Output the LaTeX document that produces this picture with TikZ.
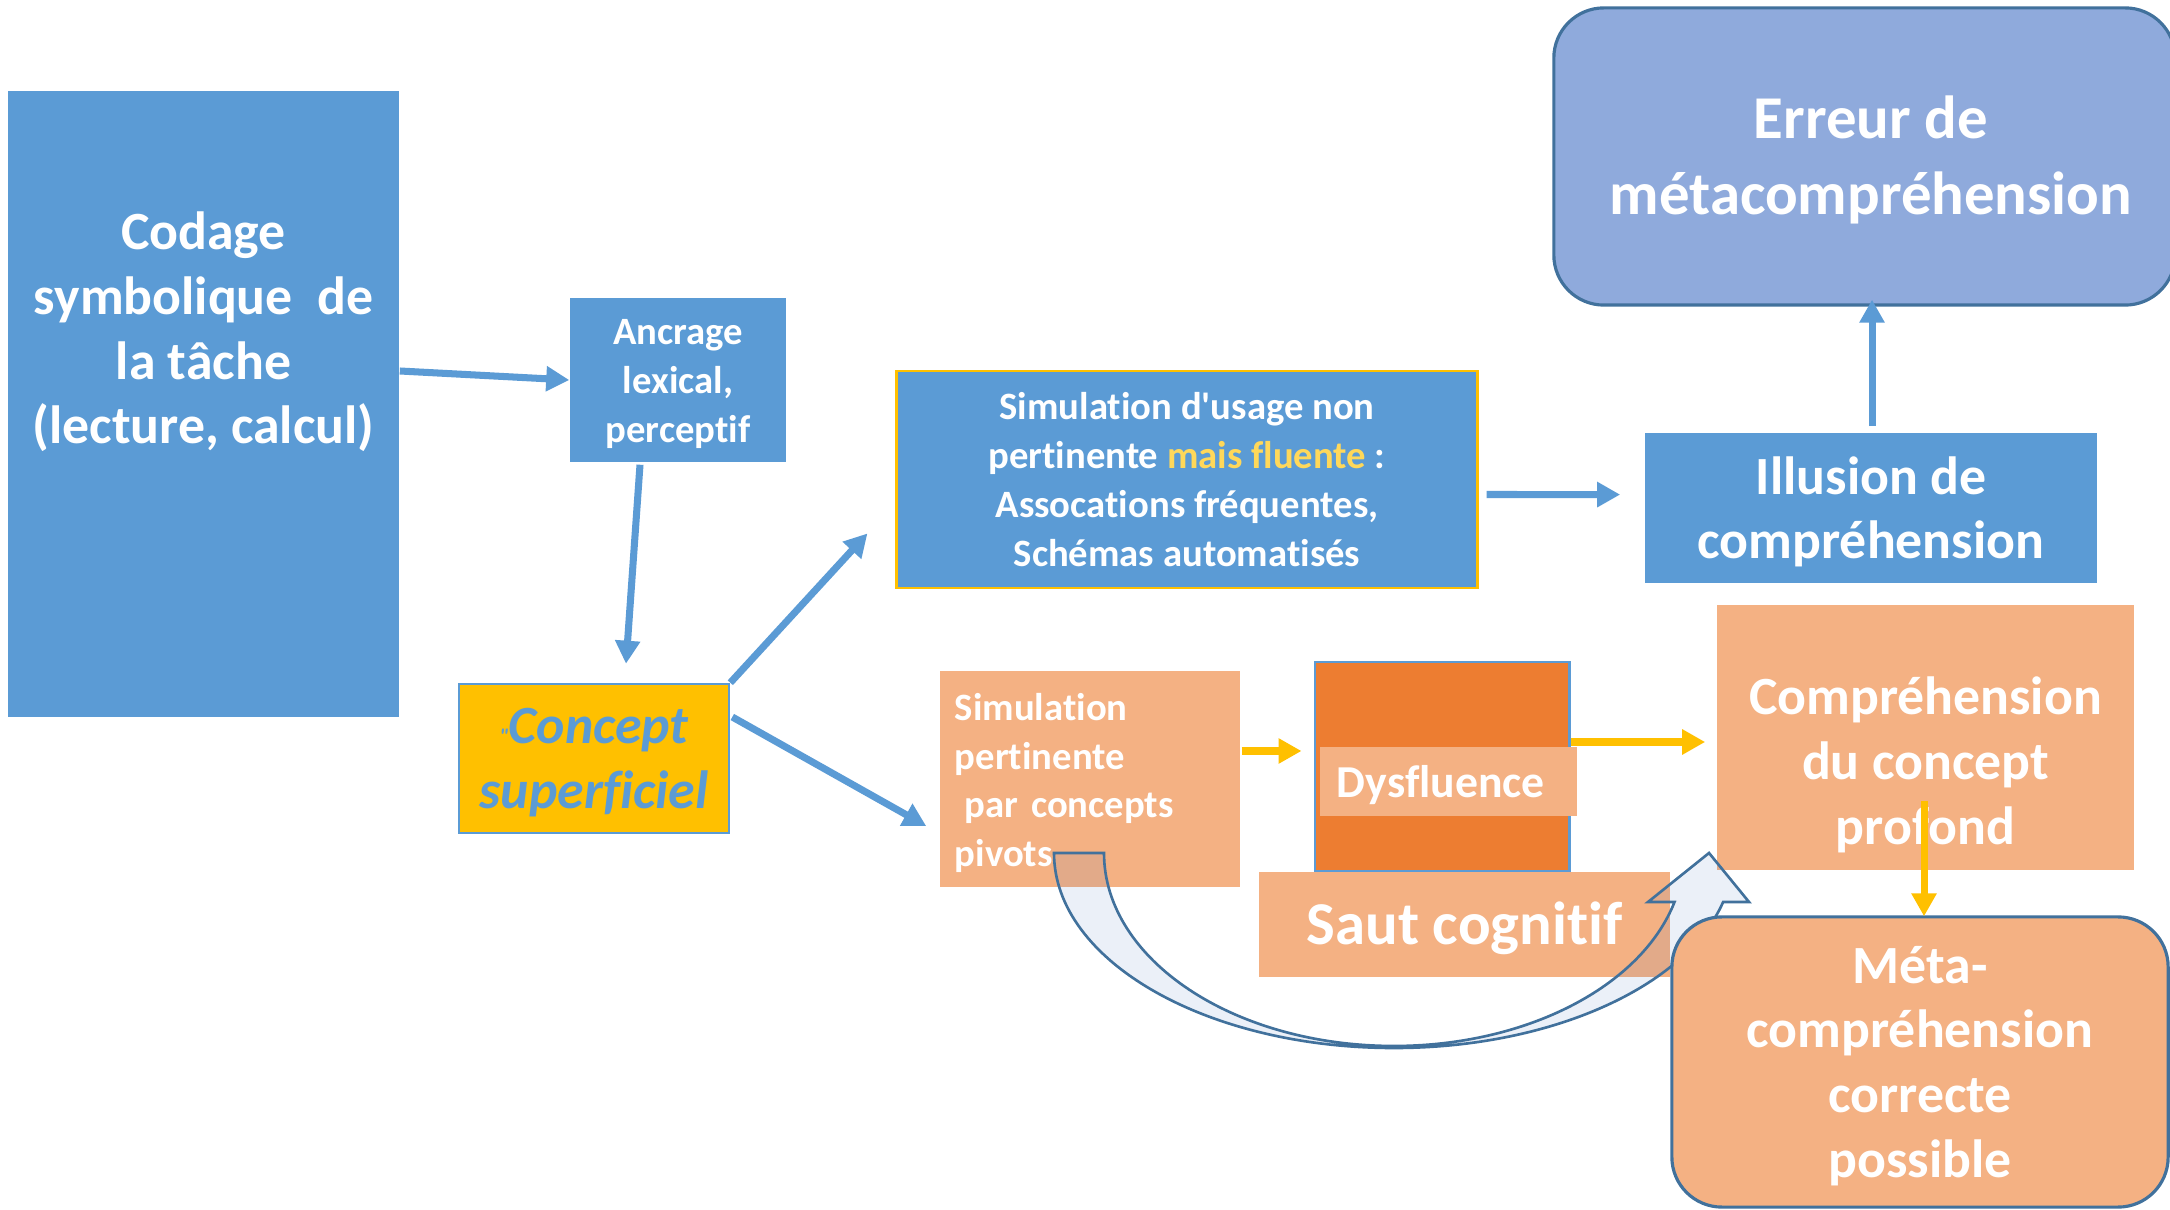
\documentclass[tikz,border=0pt]{standalone}
\usepackage{fontspec}
\setmainfont{Carlito}[Ligatures={TeXOff,CommonOff}]
\usepackage{xcolor}
\usepackage{tikz}
\usetikzlibrary{calc,arrows.meta}
\definecolor{accent}{HTML}{5B9BD5}
\definecolor{deep}{HTML}{41719C}
\definecolor{pale}{HTML}{8FAADC}
\definecolor{gold}{HTML}{FFC000}
\definecolor{lightgold}{HTML}{FFD85A}
\definecolor{salmon}{HTML}{F4B183}
\definecolor{ember}{HTML}{ED7D31}
\definecolor{veil}{HTML}{4472C4}
\newcommand{\sizeS}{\fontsize{11}{13.9}\selectfont}
\newcommand{\sizeM}{\fontsize{13}{15.6}\selectfont}
\newcommand{\sizeL}{\fontsize{15.3}{18.4}\selectfont}
\newcommand{\sizeXL}{\fontsize{17.3}{21.6}\selectfont}
\tikzset{
  bluebox/.style={fill=accent, inner sep=0pt},
  peachbox/.style={fill=salmon, inner sep=0pt},
  roundbox/.style={draw=deep, line width=0.9pt, rounded corners=0.5cm, inner sep=0pt},
  smalltxt/.style={text=white, align=center, font=\bfseries\sizeS},
  bigtxt/.style={text=white, align=center, font=\bfseries\sizeL},
  hugetxt/.style={text=white, align=center, font=\bfseries\sizeXL},
  textdrop/.style={yshift=-0.04cm},
  bline/.style={draw=accent, line width=2pt, -{Triangle[length=0.23cm,width=0.24cm]}},
  yline/.style={draw=gold, line width=2pt, -{Triangle[length=0.23cm,width=0.24cm]}},
  loopline/.style={draw=deep, line width=0.75pt, fill=veil, fill opacity=0.1, line join=miter}
}

\begin{document}
\begin{tikzpicture}[x=0.01cm, y=-0.01cm]
  \path[use as bounding box, fill=white] (0,0) rectangle (2170,1210);
  \clip (0,0) rectangle (2170,1210);

  % left column
  \node[bluebox, minimum width=3.91cm, minimum height=6.26cm] (codage) at (203.5,404) {};
  \node[bigtxt] (codagetxt) at ($(codage)+(0,-72)$) {Codage\\symbolique\ \ de\\la tâche\\(lecture, calcul)};
  \node[bluebox, minimum width=2.16cm, minimum height=1.64cm] (ancrage) at (678,380) {};
  \node[smalltxt, textdrop] (ancragetxt) at (ancrage) {Ancrage\\lexical,\\perceptif};
  \node[fill=gold, draw=accent, line width=0.7pt, inner sep=0pt, minimum width=2.7cm, minimum height=1.49cm] (concept) at (594,758.5) {};
  \node[bigtxt, textdrop, text=accent, font=\bfseries\itshape\sizeL] (concepttxt) at (concept) {{\fontsize{6}{6}\selectfont"}Concept\\superficiel};

  % upper branch
  \node[bluebox, draw=gold, line width=0.8pt, minimum width=5.8cm, minimum height=2.17cm] (simusage) at (1187,479.5) {};
  \node[smalltxt] (simusagetxt) at (simusage) {Simulation d'usage non\\pertinente \textcolor{lightgold}{mais fluente} :\\Assocations fréquentes,\\Schémas automatisés};
  \node[bluebox, minimum width=4.52cm, minimum height=1.5cm] (illusion) at (1871,508) {};
  \node[bigtxt, textdrop] (illusiontxt) at (illusion) {Illusion de\\compréhension};
  \node[roundbox, fill=pale, minimum width=6.21cm, minimum height=2.97cm] (erreur) at (1864.5,156.5) {};
  \node[hugetxt, yshift=-0.03cm] (erreurtxt) at (1871,156.5) {Erreur de\\métacompréhension};

  \draw[bline] ($(codage.east)+(0,-33)$) -- (ancrage.west);
  \draw[bline] ($(ancrage.south)+(-38,2)$) -- ($(concept.north)+(32,-19)$);
  \draw[bline] (concept.north east) -- ($(simusage.south west)+(-28,-56)$);
  \draw[bline] ($(simusage.east)+(8,15)$) -- ($(illusion.west)+(-24,-13.4)$);
  \draw[bline] ($(illusion.north)+(1,-6)$) -- ($(erreur.south)+(7.5,-7)$);

  % lower branch
  \node[peachbox, minimum width=3cm, minimum height=2.16cm] (simpert) at (1090,779) {};
  \node[smalltxt, textdrop, text width=2.7cm, align=left] (simperttxt) at (simpert) {Simulation\\pertinente\\\hspace*{0.25em}par concepts\\pivots};
  \draw[bline] ($(concept.east)+(2,-41.5)$) -- ($(simpert.west)+(-13,47)$);
  \node[peachbox, minimum width=4.11cm, minimum height=1.05cm] (saut) at (1464.5,924.5) {};
  \node[hugetxt, textdrop] (sauttxt) at (saut) {Saut cognitif};
  \node[fill=ember, draw=accent, line width=0.8pt, inner sep=0pt, minimum width=2.54cm, minimum height=2.09cm] (dysfbox) at (1442,766.5) {};
  \node[peachbox, minimum width=2.57cm, minimum height=0.69cm] (dysf) at (1448.5,781.5) {};
  \node[smalltxt, textdrop, font=\bfseries\sizeM, text width=2.23cm, align=left] (dysftxt) at (dysf) {Dysfluence};
  \node[peachbox, minimum width=4.17cm, minimum height=2.65cm] (compr) at (1925.5,737.5) {};
  \node[bigtxt] (comprtxt) at ($(compr)+(0,27.5)$) {Compréhension\\du concept\\profond};

  \draw[loopline] (1054,853) -- (1104,853)
    .. controls (1104,959.6) and (1233.8,1046) .. (1394,1046)
    .. controls (1525.8,1046) and (1641.0,986.9) .. (1674.5,902)
    -- (1648,902) -- (1709,853) -- (1749,902) -- (1723.1,902)
    .. controls (1685.2,988.0) and (1548.9,1048) .. (1394,1048)
    .. controls (1206.2,1048) and (1054,960.7) .. (1054,853) -- cycle;

  \node[roundbox, fill=salmon, minimum width=4.96cm, minimum height=2.9cm] (meta) at (1920,1062) {};
  \node[bigtxt, textdrop] (metatxt) at (meta) {Méta-\\compréhension\\correcte\\possible};

  \draw[yline] ($(simpert.east)+(1,-28)$) -- ($(dysfbox.west)+(-12,-15.5)$);
  \draw[yline] ($(dysfbox.east)+(0,-24.5)$) -- ($(compr.west)+(-11,4.5)$);
  \draw[yline] ($(compr.south)+(-1.5,-70)$) -- ($(meta.north)+(4,1)$);
\end{tikzpicture}
\end{document}
